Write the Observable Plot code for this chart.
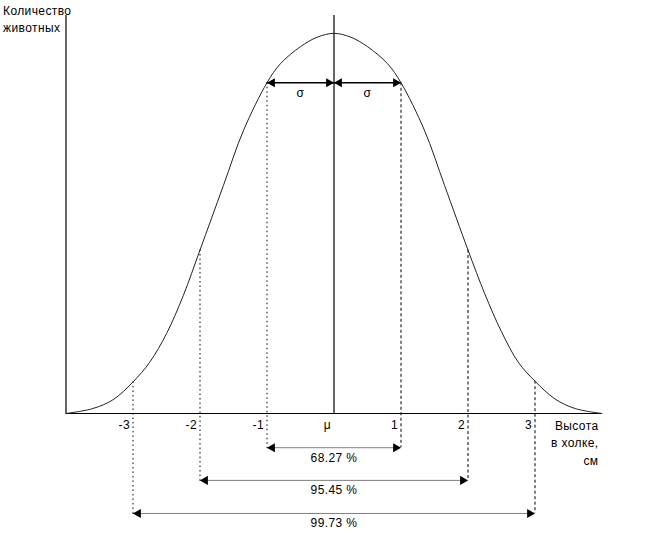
<!DOCTYPE html>
<html>
<head>
<meta charset="utf-8">
<script src="https://cdn.jsdelivr.net/npm/d3@7"></script>
<script src="https://cdn.jsdelivr.net/npm/@observablehq/plot@0.6"></script>
<style>
  html, body { margin: 0; padding: 0; background: #fff; }
  svg { display: block; }
  svg text { letter-spacing: 0.4px; }
</style>
</head>
<body>
<div id="chart"></div>
<script>
// Curve (x in sigma units, height relative to peak = 100)
const xValues = [-4, -3.6, -3.3, -3, -2.75, -2.5, -2.25, -2, -1.65, -1.35, -1, -0.8, -0.5, -0.25, 0,
                 0.25, 0.5, 0.8, 1, 1.35, 1.65, 2, 2.25, 2.5, 2.75, 3, 3.3, 3.6, 4];
const counts  = [0, 1.3, 3.6, 8.3, 13.5, 21, 31, 43, 60, 74.5, 87, 92, 96.5, 99, 100,
                 99, 96.5, 92, 87, 74.5, 60, 43, 31.5, 21.5, 13.5, 8.5, 3.8, 1.3, 0];

const tickPos    = [-3, -2, -1, 0, 1, 2, 3];
const tickLabels = ["-3", "-2", "-1", "μ", "1", "2", "3"];

const bandSigmas   = [1, 2, 3];
const bandPercents = ["68.27 %", "95.45 %", "99.73 %"];
const bandLevels   = [-9, -17.6, -26.3];   // below the baseline, in count units

const yTitle = "Количество\nживотных";
const xTitle = "Высота\nв холке,\nсм";
const sigmaLabel = "σ";

const countAt = (x) => counts[xValues.indexOf(x)];
const curve = xValues.map((x, i) => ({x, y: counts[i]}));
const sigmaY = countAt(1);

// dashed verticals
const verticals = [];
bandSigmas.forEach((k, i) => {
  verticals.push({x: -k, y1: countAt(-k), y2: bandLevels[i], side: "L"});
  verticals.push({x: k, y1: countAt(k), y2: bandLevels[i], side: "R"});
});
// horizontal arrows
const hArrows = [
  {x1: -1, x2: 0, y: sigmaY, kind: "solid"},
  {x1: 0, x2: 1, y: sigmaY, kind: "solid"},
  ...bandSigmas.map((k, i) => ({x1: -k, x2: k, y: bandLevels[i], kind: "dotted"}))
];
const headsLeft = hArrows.map(a => ({x: a.x1, y: a.y}));
const headsRight = hArrows.map(a => ({x: a.x2, y: a.y}));
const bandText = bandSigmas.map((k, i) => ({x: 0, y: bandLevels[i], t: bandPercents[i]}));
const ticks = tickPos.map((x, i) => ({x, t: tickLabels[i]}));

const font = "'Liberation Sans', Arial, sans-serif";

const chart = Plot.plot({
  width: 670,
  height: 533,
  marginLeft: 65.5,
  marginRight: 68.5,
  marginTop: 15,
  marginBottom: 120,
  style: {fontFamily: font, fontSize: "12px", color: "#000", background: "#fff"},
  x: {domain: [-4, 4], axis: null},
  y: {domain: [0, 104.7], axis: null},
  marks: [
    // dashed verticals
    Plot.ruleX(verticals.filter(d => d.side === "L"), {x: "x", y1: "y1", y2: "y2", stroke: "#000", strokeWidth: 1, strokeDasharray: "1.5,3"}),
    Plot.ruleX(verticals.filter(d => d.side === "R"), {x: "x", y1: "y1", y2: "y2", stroke: "#000", strokeWidth: 1, strokeDasharray: "3,2.5"}),
    // axes
    Plot.ruleY([0], {stroke: "#000", strokeWidth: 1.2}),
    Plot.ruleX([-4], {stroke: "#000", strokeWidth: 1.2}),
    Plot.ruleX([0], {stroke: "#000", strokeWidth: 1.2}),
    // curve
    Plot.line(curve, {x: "x", y: "y", curve: "catmull-rom", stroke: "#222", strokeWidth: 1}),
    // horizontal arrows
    Plot.ruleY(hArrows.filter(d => d.kind === "solid"), {y: "y", x1: "x1", x2: "x2", stroke: "#000", strokeWidth: 1.5}),
    Plot.ruleY(hArrows.filter(d => d.kind === "dotted"), {y: "y", x1: "x1", x2: "x2", stroke: "#000", strokeWidth: 1, strokeDasharray: "1,1"}),
    Plot.dot(headsLeft, {x: "x", y: "y", symbol: "triangle", r: 3.4, fill: "#000", stroke: null, rotate: -90, dx: 5.2}),
    Plot.dot(headsRight, {x: "x", y: "y", symbol: "triangle", r: 3.4, fill: "#000", stroke: null, rotate: 90, dx: -5.2}),
    // sigma labels
    Plot.text([-0.5, 0.5], {x: d => d, y: sigmaY, text: () => sigmaLabel, dy: 10, fontSize: 12, fill: "#000"}),
    // tick labels
    Plot.text(ticks, {x: "x", y: 0, text: "t", textAnchor: "end", dx: -3, dy: 12, fontSize: 12, fill: "#000"}),
    // band labels
    Plot.text(bandText, {x: "x", y: "y", text: "t", dy: 10, fontSize: 12, fill: "#000"}),
    // axis titles
    Plot.text([yTitle], {frameAnchor: "top-left", text: d => d, textAnchor: "start", lineAnchor: "top", dx: -63, dy: -13, lineHeight: 1.42, fontSize: 12, fill: "#000"}),
    Plot.text([xTitle], {frameAnchor: "bottom-right", text: d => d, textAnchor: "end", lineAnchor: "top", dx: -3.5, dy: 4, lineHeight: 1.45, fontSize: 12, fill: "#000"})
  ]
});
document.getElementById("chart").appendChild(chart);
</script>
</body>
</html>
